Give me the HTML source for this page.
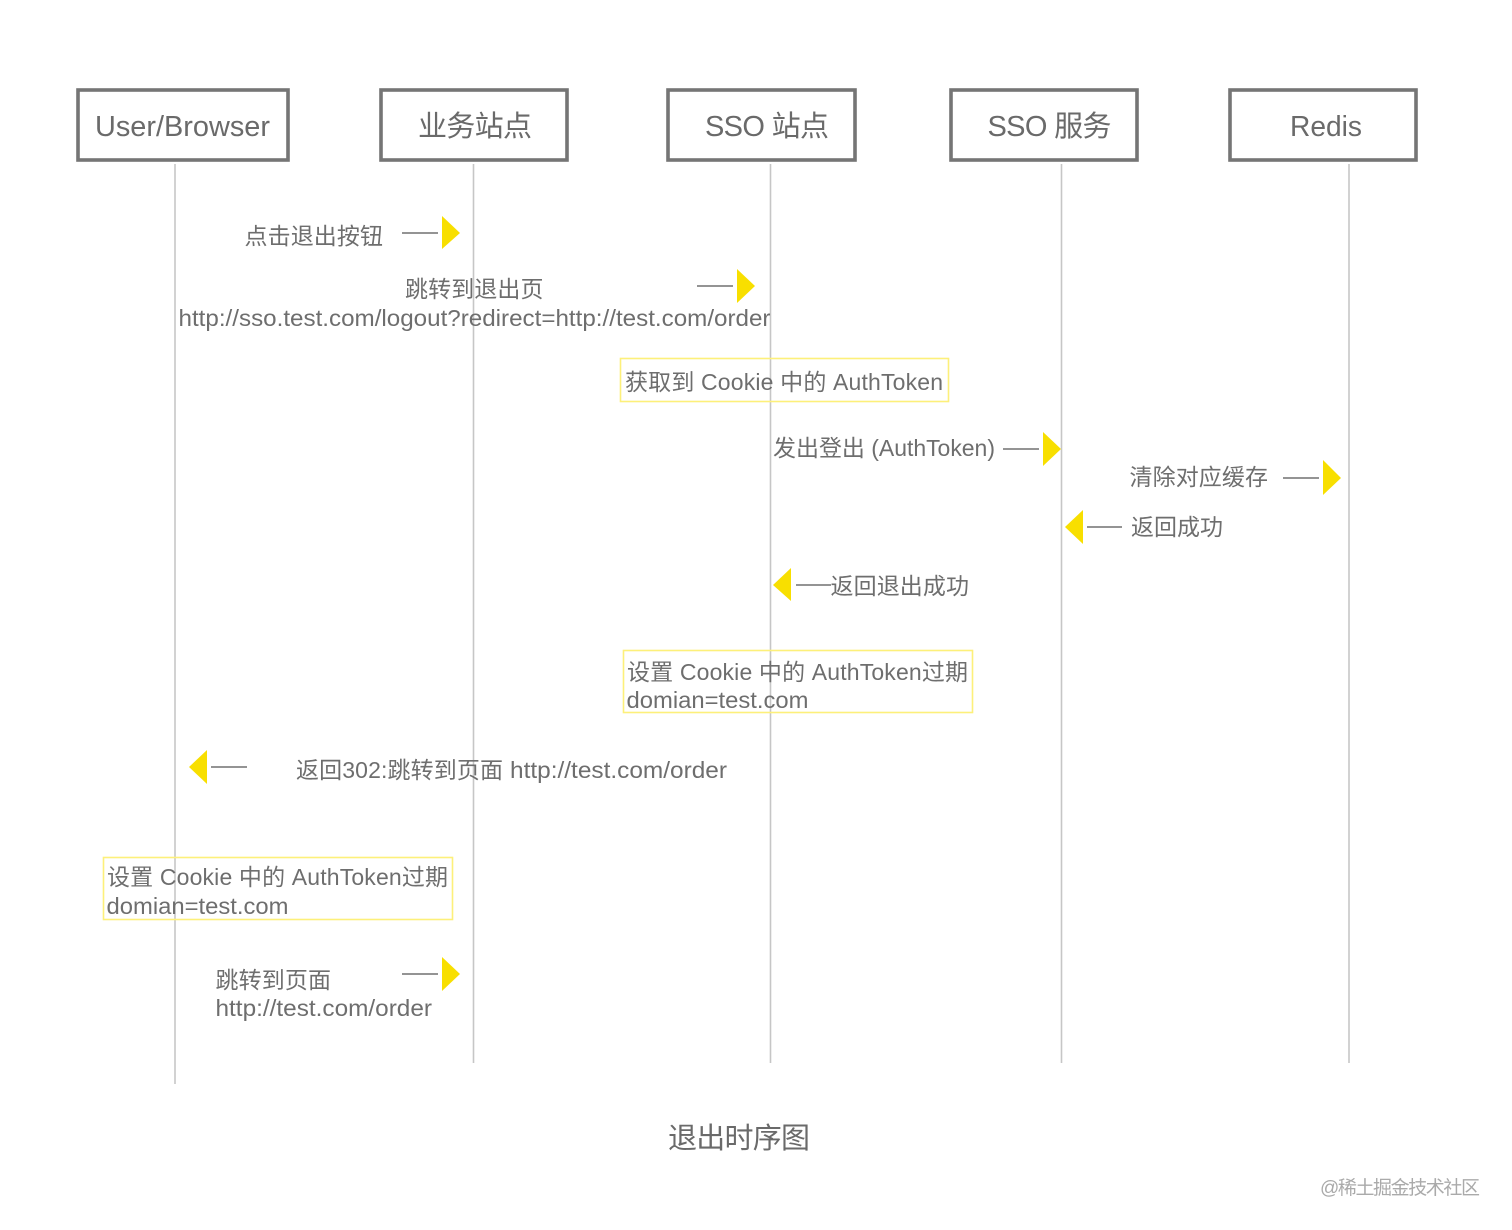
<!DOCTYPE html>
<html><head><meta charset="utf-8"><style>
html,body{margin:0;padding:0;background:#fff}
svg{display:block}
text{font-family:"Liberation Sans","Noto Sans CJK SC",sans-serif;fill:#6e6e6e;font-size:23px}
.h{font-size:29px;fill:#6a6a6a}
.box{fill:#fff;stroke:#757575;stroke-width:3.6}
.life{stroke:#c6c6c6;stroke-width:1.6}
.y{fill:none;stroke:#fdf07a;stroke-width:1.6}
.a{fill:#f8df00}
.l{stroke:#707070;stroke-width:1.6}
</style></head><body>
<svg width="1512" height="1230" viewBox="0 0 1512 1230" xmlns="http://www.w3.org/2000/svg">
<rect width="1512" height="1230" fill="#fff"/>
<rect class="box" x="78" y="90" width="210" height="70"/>
<rect class="box" x="381" y="90" width="186" height="70"/>
<rect class="box" x="668" y="90" width="187" height="70"/>
<rect class="box" x="951" y="90" width="186" height="70"/>
<rect class="box" x="1230" y="90" width="186" height="70"/>
<text class="h" x="95" y="136" textLength="175" lengthAdjust="spacingAndGlyphs">User/Browser</text>
<text class="h" x="418" y="136" textLength="114">业务站点</text>
<text class="h" x="705" y="136" textLength="124">SSO 站点</text>
<text class="h" x="987.500" y="136" textLength="124">SSO 服务</text>
<text class="h" x="1290" y="136" textLength="72" lengthAdjust="spacingAndGlyphs">Redis</text>

<line class="life" x1="175" y1="164" x2="175" y2="1084"/>
<line class="life" x1="473.5" y1="164" x2="473.5" y2="1063"/>
<line class="life" x1="770.5" y1="164" x2="770.5" y2="1063"/>
<line class="life" x1="1061.5" y1="164" x2="1061.5" y2="1063"/>
<line class="life" x1="1349" y1="164" x2="1349" y2="1063"/>

<text x="244.500" y="244" textLength="138.500">点击退出按钮</text>
<line class="l" x1="402" y1="233" x2="438" y2="233"/>
<polygon class="a" points="442,216 460,233 442,249"/>

<text x="405" y="297" textLength="138.500">跳转到退出页</text>
<text x="178.500" y="326" textLength="592" lengthAdjust="spacingAndGlyphs">http://sso.test.com/logout?redirect=http://test.com/order</text>
<line class="l" x1="697" y1="286" x2="733" y2="286"/>
<polygon class="a" points="737,269 755,286 737,303"/>

<rect class="y" x="620.5" y="358.5" width="328" height="43"/>
<text x="625" y="390" textLength="318">获取到 Cookie 中的 AuthToken</text>

<text x="773" y="456" textLength="222">发出登出 (AuthToken)</text>
<line class="l" x1="1003" y1="449" x2="1039" y2="449"/>
<polygon class="a" points="1043,432 1061,449 1043,466"/>

<text x="1129.500" y="485" textLength="138.500">清除对应缓存</text>
<line class="l" x1="1283" y1="478" x2="1319" y2="478"/>
<polygon class="a" points="1323,460 1341,478 1323,495"/>

<polygon class="a" points="1083,510 1065,527 1083,544"/>
<line class="l" x1="1087" y1="527" x2="1122" y2="527"/>
<text x="1131" y="535" textLength="92">返回成功</text>

<polygon class="a" points="791,568 773,585 791,601"/>
<line class="l" x1="796" y1="585" x2="831" y2="585"/>
<text x="830.500" y="594" textLength="138.500">返回退出成功</text>

<rect class="y" x="623.5" y="650.5" width="349" height="62"/>
<text x="627" y="680" textLength="341">设置 Cookie 中的 AuthToken过期</text>
<text x="626.500" y="708" textLength="182" lengthAdjust="spacingAndGlyphs">domian=test.com</text>

<polygon class="a" points="207,750 189,767 207,784"/>
<line class="l" x1="211" y1="767" x2="247" y2="767"/>
<text x="296" y="778" textLength="207">返回302:跳转到页面</text>
<text x="510" y="778" textLength="217" lengthAdjust="spacingAndGlyphs">http://test.com/order</text>

<rect class="y" x="103.5" y="857.5" width="349" height="62"/>
<text x="107" y="885" textLength="341">设置 Cookie 中的 AuthToken过期</text>
<text x="106.500" y="914" textLength="182" lengthAdjust="spacingAndGlyphs">domian=test.com</text>

<text x="215.500" y="988" textLength="115.500">跳转到页面</text>
<text x="215.500" y="1016" textLength="216.500" lengthAdjust="spacingAndGlyphs">http://test.com/order</text>
<line class="l" x1="402" y1="974" x2="438" y2="974"/>
<polygon class="a" points="442,957 460,974 442,991"/>

<text class="h" x="668" y="1148" textLength="142">退出时序图</text>
<text x="1320" y="1194" textLength="160" style="font-size:19px;fill:#aaa">@稀土掘金技术社区</text>
</svg>
</body></html>
